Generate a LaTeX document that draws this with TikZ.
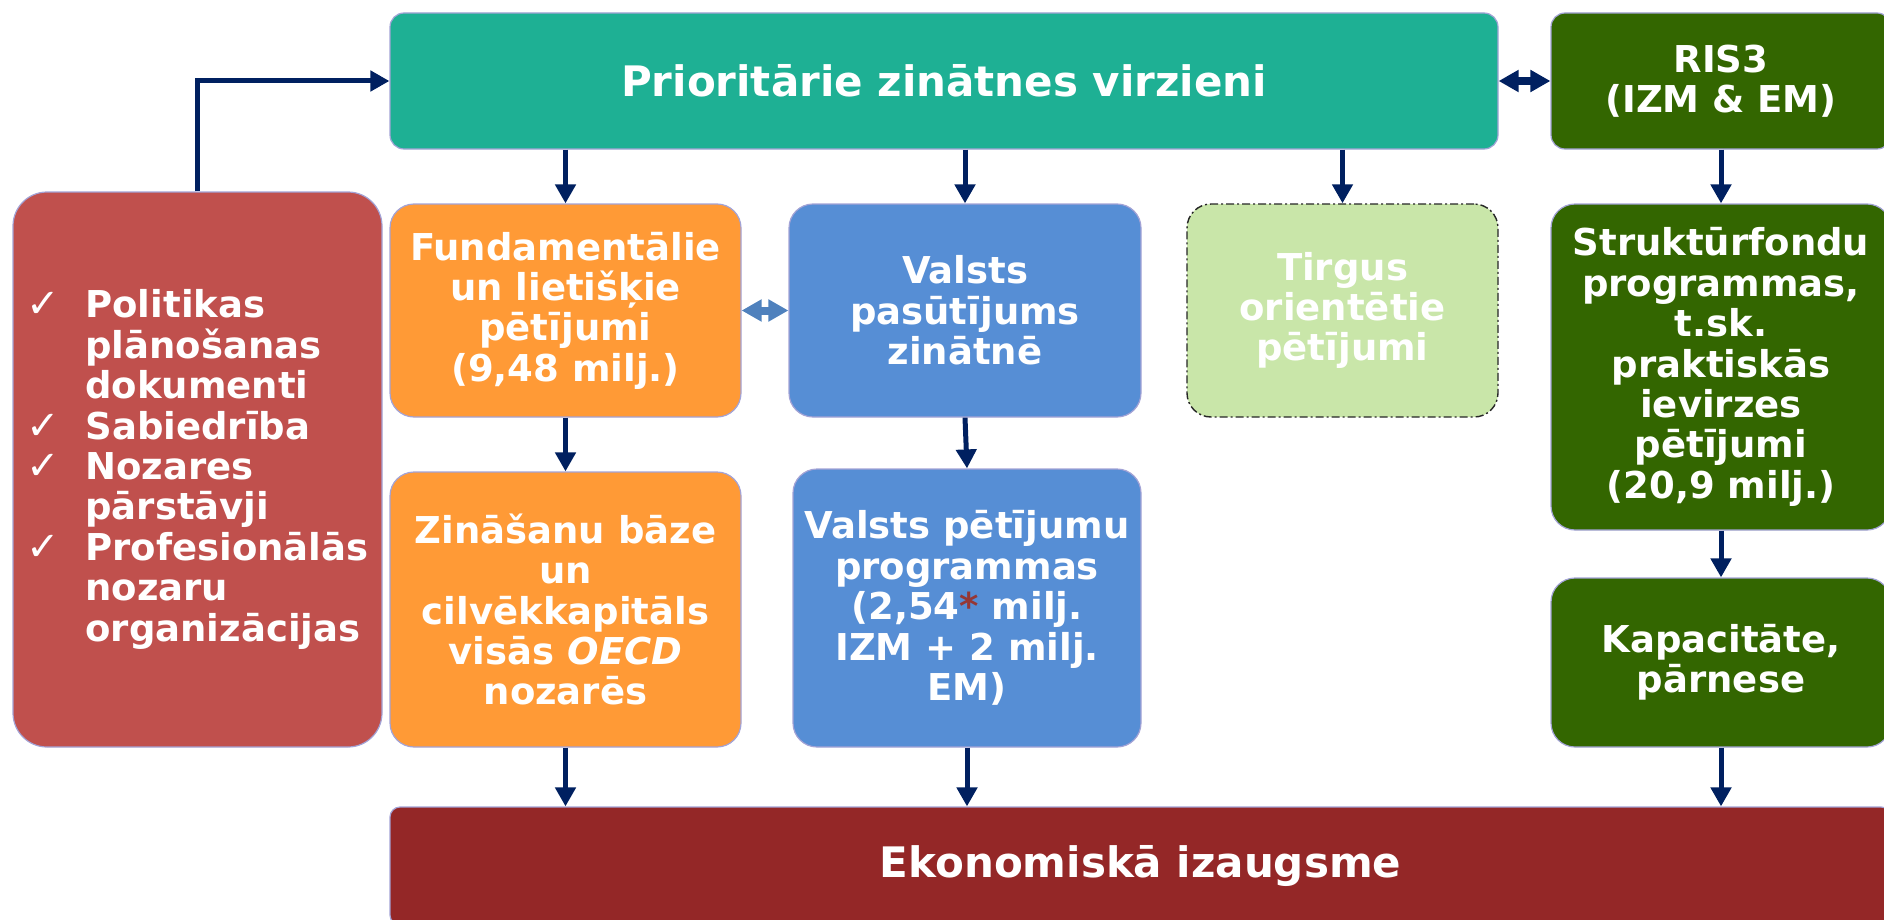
\documentclass[tikz,border=0pt]{standalone}
\usepackage{fontspec}
\setmainfont{DejaVu Sans}[ItalicFont={DejaVu Sans Oblique},BoldFont={DejaVu Sans Bold},BoldItalicFont={DejaVu Sans Bold Oblique}]
\newfontfamily\chk{DejaVu Sans}
\usetikzlibrary{arrows.meta}
\definecolor{cteal}{HTML}{1EB094}
\definecolor{cdkgreen}{HTML}{336600}
\definecolor{corange}{HTML}{FF9A36}
\definecolor{cblue}{HTML}{568ED5}
\definecolor{clgreen}{HTML}{C9E6A9}
\definecolor{cred}{HTML}{C0504D}
\definecolor{cmaroon}{HTML}{942727}
\definecolor{cnavy}{HTML}{002060}
\definecolor{csteel}{HTML}{4F81BD}
\definecolor{cborder}{HTML}{A3A3D6}
\definecolor{castr}{HTML}{953735}
\newcommand{\ck}{\makebox[29.5pt][l]{\chk\mdseries\fontsize{20}{20}\selectfont ✓}}
\newcommand{\ind}{\hspace*{29.5pt}}
\begin{document}
\begin{tikzpicture}[x=0.5pt,y=-0.5pt,
  box/.style={draw=cborder, line width=0.6pt, text=white, align=center, inner sep=0pt,
    rounded corners=12pt, font=\bfseries\fontsize{18.5}{20.2}\selectfont},
  bigtxt/.style={font=\bfseries\fontsize{21}{24}\selectfont},
  arr/.style={draw=cnavy, line width=2.5pt, -{Triangle[width=10pt,length=9.5pt]}},
  dbl/.style={line width=4pt, {Triangle[width=10.5pt,length=10pt]}-{Triangle[width=10.5pt,length=10pt]}}
]
\useasboundingbox (0,0) rectangle (1884,920);

\node[box, bigtxt, fill=cteal, minimum width=554pt, minimum height=68pt, rounded corners=7pt] (prior) at (944,81) {Prioritārie zinātnes virzieni};
\node[box, fill=cdkgreen, minimum width=170pt, minimum height=68pt, rounded corners=7pt] (ris) at (1721,81) {RIS3\\(IZM \& EM)};

\node[box, fill=cred, minimum width=184.5pt, minimum height=277.5pt, rounded corners=17pt, align=left] (left) at (197.5,469.5)
  {\ck Politikas\\ \ind plānošanas\\ \ind dokumenti\\ \ck Sabiedrība\\ \ck Nozares\\ \ind pārstāvji\\ \ck Profesionālās\\ \ind nozaru\\ \ind organizācijas};

\node[box, fill=corange, minimum width=175.5pt, minimum height=106.5pt] (fund) at (565.5,310.5) {Fundamentālie\\un lietišķie\\pētījumi\\(9,48 milj.)};
\node[box, fill=cblue, minimum width=176pt, minimum height=106.5pt] (vp) at (965,310.5) {Valsts\\pasūtījums\\zinātnē};
\node[box, fill=clgreen, draw=black!85, line width=0.7pt, dash pattern=on 4pt off 1.5pt on 1pt off 1.5pt, minimum width=155.5pt, minimum height=106.5pt] (tirg) at (1342.5,310.5) {Tirgus\\orientētie\\pētījumi};
\node[box, fill=cdkgreen, minimum width=170pt, minimum height=163pt] (struct) at (1721,367) {Struktūrfondu\\programmas,\\t.sk.\\praktiskās\\ievirzes\\pētījumi\\(20,9 milj.)};

\node[box, fill=corange, minimum width=175.5pt, minimum height=137.5pt] (zin) at (565.5,609.5) {Zināšanu bāze\\un\\cilvēkkapitāls\\visās \textit{OECD}\\nozarēs};
\node[box, fill=cblue, minimum width=174pt, minimum height=139pt] (vpp) at (967,608) {Valsts pētījumu\\programmas\\(2,54{\color{castr}*} milj.\\IZM + 2 milj.\\EM)};
\node[box, fill=cdkgreen, minimum width=170pt, minimum height=84.5pt] (kap) at (1721,662.5) {Kapacitāte,\\pārnese};

\node[box, bigtxt, fill=cmaroon, minimum width=750.5pt, minimum height=59pt, rounded corners=5pt] (ekon) at (1140.5,866) {Ekonomiskā izaugsme};

\draw[arr] (left.north) |- (prior.west);
\draw[arr] (prior.south -| fund.north) -- (fund.north);
\draw[arr] (prior.south -| vp.north) -- (vp.north);
\draw[arr] (prior.south -| tirg.north) -- (tirg.north);
\draw[arr] (ris.south) -- (struct.north);
\draw[arr] (fund.south) -- (zin.north);
\draw[arr] (vp.south) -- (vpp.north);
\draw[arr] (struct.south) -- (kap.north);
\draw[arr] (zin.south) -- (zin.south |- ekon.north);
\draw[arr] (vpp.south) -- (vpp.south |- ekon.north);
\draw[arr] (kap.south) -- (kap.south |- ekon.north);
\draw[dbl, draw=cnavy] (prior.east) -- (ris.west);
\draw[dbl, draw=csteel] (fund.east) -- (vp.west);
\end{tikzpicture}
\end{document}
